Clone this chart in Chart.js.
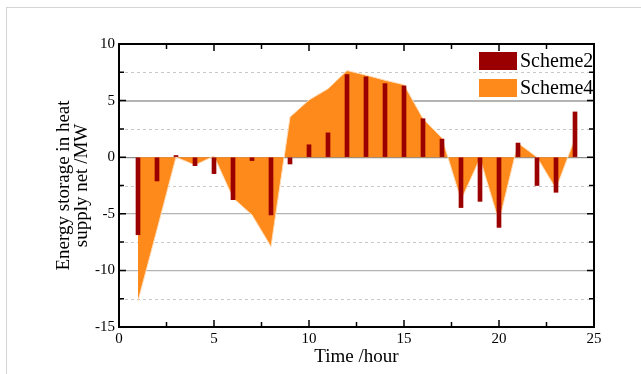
<!DOCTYPE html>
<html>
<head>
<meta charset="utf-8">
<script src="https://cdn.jsdelivr.net/npm/chart.js@4/dist/chart.umd.min.js"></script>
<style>
  html, body { margin: 0; padding: 0; background: #fff; }
  #wrap { position: relative; width: 641px; height: 374px; }
  #frame { position: absolute; left: 6px; top: 7px; width: 700px; height: 400px;
           border-left: 1px solid #d4d4d4; border-top: 1px solid #d4d4d4; }
  canvas { position: absolute; left: 0; top: 0; }
</style>
</head>
<body>
<div id="wrap">
  <div id="frame"></div>
  <canvas id="chart" width="641" height="374"></canvas>
</div>
<script>
// hours 1..24
const hours = [1, 2, 3, 4, 5, 6, 7, 8, 9, 10, 11, 12, 13, 14, 15, 16, 17, 18, 19, 20, 21, 22, 23, 24];
const scheme2 = [-6.85, -2.1, 0.15, -0.75, -1.45, -3.75, -0.3, -5.1, -0.6, 1.1, 2.15, 7.3,
                 7.1, 6.5, 6.3, 3.4, 1.6, -4.45, -3.9, -6.2, 1.25, -2.5, -3.1, 4.0];
const scheme4 = [-12.7, -6.4, 0, -0.7, 0.1, -3.6, -5.1, -7.9, 3.55, 5.05, 6.05, 7.65,
                 7.25, 6.8, 6.4, 3.4, 1.7, -3.8, -0.1, -5.7, 1.25, 0, -2.8, 1.7];

const xTicks = [0, 5, 10, 15, 20, 25];
const yTicks = [-15, -10, -5, 0, 5, 10];
const xMinor = [0, 2.5, 5, 7.5, 10, 12.5, 15, 17.5, 20, 22.5, 25];
const yMinor = [-15, -12.5, -10, -7.5, -5, -2.5, 0, 2.5, 5, 7.5, 10];

const serif = "'Liberation Serif', 'Times New Roman', serif";

// dashed minor grid, inward ticks on all sides, black box, legend
const framePlugin = {
  id: 'frame',
  beforeDatasetsDraw(chart) {
    const { ctx, chartArea: a, scales } = chart;
    ctx.save();
    ctx.strokeStyle = '#c8c8c8';
    ctx.lineWidth = 1;
    ctx.setLineDash([3, 3]);
    yMinor.forEach(v => {
      if (v % 5 === 0) return;
      const y = Math.round(scales.y.getPixelForValue(v)) + 0.5;
      ctx.beginPath();
      ctx.moveTo(a.left, y);
      ctx.lineTo(a.right, y);
      ctx.stroke();
    });
    ctx.restore();
  },
  afterDraw(chart) {
    const { ctx, chartArea: a, scales } = chart;
    ctx.save();
    ctx.strokeStyle = '#000';
    ctx.lineWidth = 1.5;
    xMinor.forEach(v => {
      const x = scales.x.getPixelForValue(v);
      const len = v % 5 === 0 ? 7 : 5;
      ctx.beginPath();
      ctx.moveTo(x, a.bottom); ctx.lineTo(x, a.bottom - len);
      ctx.moveTo(x, a.top); ctx.lineTo(x, a.top + len);
      ctx.stroke();
    });
    yMinor.forEach(v => {
      const y = scales.y.getPixelForValue(v);
      const len = v % 5 === 0 ? 7 : 5;
      ctx.beginPath();
      ctx.moveTo(a.left, y); ctx.lineTo(a.left + len, y);
      ctx.moveTo(a.right, y); ctx.lineTo(a.right - len, y);
      ctx.stroke();
    });
    ctx.lineWidth = 2;
    ctx.strokeRect(a.left, a.top, a.right - a.left, a.bottom - a.top);

    // legend
    const items = chart.data.datasets.slice().sort((p, q) => p.order - q.order);
    ctx.font = '20px ' + serif;
    ctx.textBaseline = 'middle';
    ctx.textAlign = 'left';
    items.forEach((ds, i) => {
      const y = 52 + i * 27;
      ctx.fillStyle = ds.backgroundColor;
      ctx.fillRect(479, y, 38, 18);
      ctx.fillStyle = '#000';
      ctx.fillText(ds.label, 520, y + 10);
    });
    ctx.restore();
  }
};

new Chart(document.getElementById('chart'), {
  type: 'bar',
  data: {
    datasets: [
      {
        type: 'bar',
        label: 'Scheme2',
        data: hours.map((h, i) => ({ x: h, y: scheme2[i] })),
        backgroundColor: '#9b0000',
        barThickness: 4,
        order: 0
      },
      {
        type: 'line',
        label: 'Scheme4',
        data: hours.map((h, i) => ({ x: h, y: scheme4[i] })),
        backgroundColor: '#ff8a1c',
        borderColor: '#ffdcb8',
        borderWidth: 1,
        pointRadius: 0,
        tension: 0,
        fill: 'origin',
        order: 1
      }
    ]
  },
  options: {
    responsive: false,
    animation: false,
    layout: { padding: { left: 0, right: 47, top: 44, bottom: 0 } },
    plugins: { legend: { display: false }, tooltip: { enabled: false } },
    scales: {
      x: {
        type: 'linear',
        min: 0, max: 25,
        offset: false,
        grid: { display: false, offset: false, drawTicks: false },
        border: { display: false },
        afterBuildTicks: s => { s.ticks = xTicks.map(v => ({ value: v })); },
        afterFit: s => { s.height = 47; },
        ticks: { color: '#000', font: { family: serif, size: 15 }, padding: 3, maxRotation: 0 },
        title: { display: true, text: 'Time /hour', color: '#000',
                 font: { family: serif, size: 19 }, padding: { top: 0, bottom: 6 } }
      },
      y: {
        min: -15, max: 10,
        grid: {
          drawTicks: false,
          color: c => (c.tick.value === 0 ? '#8c8c8c' : (c.tick.value === 10 || c.tick.value === -15 ? 'rgba(0,0,0,0)' : '#b4b4b4')),
          lineWidth: c => (c.tick.value === 5 ? 2 : 1.2)
        },
        border: { display: false },
        afterBuildTicks: s => { s.ticks = yTicks.map(v => ({ value: v })); },
        afterFit: s => { s.width = 119; },
        ticks: { color: '#000', font: { family: serif, size: 15 }, padding: 4 },
        title: { display: true, text: ['Energy storage in heat', 'supply net /MW'], color: '#000',
                 font: { family: serif, size: 19, lineHeight: 0.95 }, padding: { top: 55, bottom: 0 } }
      }
    }
  },
  plugins: [framePlugin]
});
</script>
</body>
</html>
